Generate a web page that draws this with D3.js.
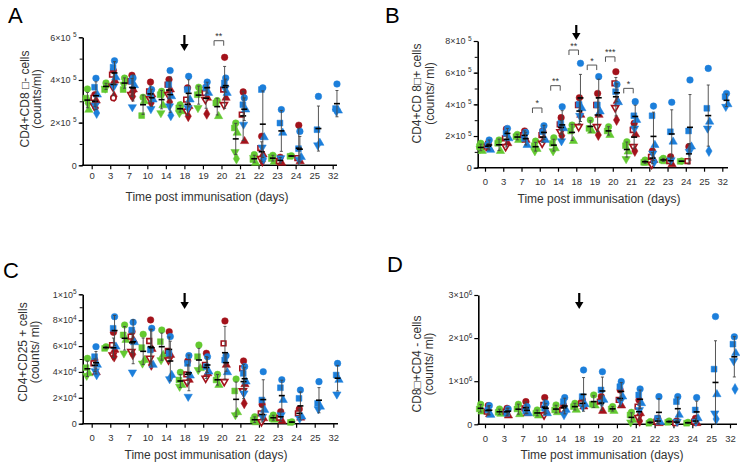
<!DOCTYPE html>
<html>
<head>
<meta charset="utf-8">
<script src="https://cdn.jsdelivr.net/npm/d3@7"></script>
<style>
  body { margin: 0; background: #fff; }
  svg { font-family: "Liberation Sans", Arial, sans-serif; }
  .tick text { fill: #333; }
</style>
</head>
<body>
<div id="chart"></div>
<script>
const days = ["0", "3", "7", "10", "14", "18", "19", "20", "21", "22", "23", "24", "25", "32"];

// panel A, counts x10^5
const aGreen = [[3.58, 3.15, 2.6, 3.05, 2.9], [3.86, 3.55, 3.78, 3.6], [4.09, 3.55, 4.0, 3.78], [3.19, 2.33, 3.0],
  [3.47, 3.31, 2.81, 2.45, 3.35], [2.84, 2.69, 2.53, 2.45, 2.75], [3.66, 3.31, 3.5, 2.69], [3.03, 2.92, 2.3],
  [1.98, 1.75, 1.52, 0.63, 0.31], [0.5, 0.27, 0.11, 0.35], [0.47, 0.31, 0.16, 0.4], [0.45, 0.42], [], []];
const aRed = [[3.31, 3.16, 3.03, 2.8, 2.69], [4.44, 4.25, 3.97, 3.7, 3.23, 3.16], [4.22, 3.94, 3.55, 3.31, 3.23],
  [3.9, 3.47, 3.31, 3.13, 2.92], [4.02, 3.78, 3.55, 3.31, 2.97], [3.63, 3.08, 2.77, 2.53, 2.3],
  [3.66, 3.39, 3.16, 3.08, 2.41], [5.06, 3.55, 3.16, 2.84], [3.44, 2.38, 1.13], [1.36, 0.81, 0.5, 0.31, 0.19],
  [0.38, 0.19, 0.11], [1.88, 0.34, 0.19], [], []];
const aBlue = [[4.08, 3.66, 3.31, 2.81, 2.45], [4.9, 4.6, 4.12, 3.7], [4.09, 3.94, 3.75, 2.73], [3.55, 3.39, 3.08, 2.64],
  [4.44, 3.78, 3.23, 2.77, 2.34], [4.17, 3.55, 3.08, 2.69], [3.9, 3.63, 3.39], [4.09, 3.86, 3.39, 3.6],
  [3.16, 2.84, 2.61, 1.91], [3.63, 3.55, 1.31, 0.84, 0.31], [2.61, 1.98, 1.52, 0.34], [1.59, 0.78, 0.38, 0.27],
  [3.23, 1.67, 1.05, 0.94], [3.81, 2.66, 2.56, 2.53]];

// panel B, counts x10^5
const bGreen = [[1.54, 1.33, 1.05, 1.2], [1.75, 1.54, 1.05], [2.1, 1.96, 1.75], [1.68, 1.39, 1.18, 1.05],
  [1.89, 1.54, 1.22, 1.05], [2.69, 2.32, 1.68], [3.01, 2.48, 2.32], [2.59, 2.32, 2.06], [1.64, 1.39, 1.01, 0.55],
  [0.48, 0.34, 0.3], [0.59, 0.48, 0.4], [0.42, 0.4], [], []];
const bRed = [[1.54, 1.33, 1.2], [2.44, 1.85, 1.54, 1.33], [2.32, 2.06, 1.75], [2.32, 2.06, 1.81, 1.54],
  [3.16, 2.74, 2.53, 2.27, 2.02], [4.42, 3.96, 3.33, 2.59], [4.69, 3.96, 3.33, 2.59, 2.06],
  [6.06, 5.33, 4.21, 3.79, 3.01], [2.8, 2.38, 2.1, 1.33, 1.05], [1.05, 0.69, 0.48, 0.21], [0.69, 0.42, 0.21],
  [1.33, 0.42], [], []];
const bBlue = [[1.75, 1.43, 1.12], [2.48, 2.17, 1.85], [2.23, 1.85, 1.43], [2.65, 2.27, 1.75], [3.85, 2.8, 2.48, 1.68],
  [6.59, 4.0, 3.75, 3.28], [5.75, 3.96, 3.54], [5.26, 4.8, 4.13], [4.17, 3.28, 3.01, 2.48],
  [3.89, 3.28, 1.43, 0.9, 0.38], [4.13, 2.27, 1.64, 0.48], [5.54, 2.32, 1.33, 1.01], [6.27, 3.75, 2.9, 2.48, 1.05],
  [4.69, 4.48, 4.0, 3.85]];

// panel C, counts x10^4
const cGreen = [[5.05, 4.33, 3.89, 3.71], [5.95, 5.82], [7.63, 6.86, 6.47, 5.44], [6.91, 5.88, 4.92, 4.66],
  [7.24, 6.34, 5.31, 4.92], [3.97, 3.38, 2.99, 2.86], [6.08, 5.18, 4.28, 4.15], [3.81, 3.38, 2.99],
  [3.45, 2.53, 0.88, 0.67], [0.54, 0.28, 0.1], [0.67, 0.41, 0.3], [0.15, 0.1], [], []];
const cRed = [[4.92, 4.66, 3.97], [7.06, 6.08, 5.7, 5.31, 5.18], [7.11, 6.73, 6.47, 5.57, 5.36],
  [8.02, 6.39, 5.77, 5.05, 4.54], [7.11, 5.62, 5.31, 4.92], [4.85, 3.81, 3.38, 3.2], [5.44, 4.54, 3.89, 3.51],
  [7.94, 6.21, 4.54, 3.25], [4.85, 4.28, 3.04, 2.53, 1.57], [1.49, 0.8, 0.41, 0.15], [0.93, 0.46, 0.21],
  [1.13, 0.8, 0.46], [], []];
const cBlue = [[5.95, 5.18, 4.54, 4.07, 3.81], [8.27, 7.37, 5.95], [7.84, 7.24, 6.29, 3.97], [7.37, 5.7, 4.54],
  [6.73, 5.44, 3.76, 3.45], [5.26, 4.66, 3.71, 2.09], [5.18, 4.41, 4.02], [5.26, 4.92, 3.97],
  [4.41, 3.89, 3.25, 2.35], [4.02, 1.83, 1.06, 0.54], [3.4, 2.78, 1.83, 0.67], [2.6, 1.96, 0.54, 0.4],
  [3.25, 1.57, 1.31, 1.13], [4.66, 3.76, 3.38, 2.27]];

// panel D, counts x10^5
const dGreen = [[4.64, 3.56, 2.94], [3.56, 2.78, 2.4], [4.64, 3.56, 2.32], [3.33, 2.55, 2.01], [4.49, 3.33, 2.78],
  [4.87, 4.1, 3.33], [6.81, 4.64, 4.33], [4.1, 3.56, 3.09], [2.78, 2.17, 1.0, 0.46], [0.62, 0.25], [0.77, 0.46],
  [0.46, 0.25], [], []];
const dRed = [[4.33, 2.94, 2.32], [3.71, 2.94, 2.01], [5.26, 3.71, 2.55], [6.19, 4.49, 3.09, 2.17], [4.33, 3.33],
  [5.65, 4.87, 4.1], [6.42, 5.26, 3.09], [7.97, 5.65, 4.33], [5.65, 4.1, 2.55, 1.55, 0.77], [1.39, 0.62, 0.25],
  [0.77, 0.25], [1.39, 0.62, 0.25], [], []];
const dBlue = [[4.33, 3.33, 2.17], [3.56, 2.55], [4.1, 3.09, 2.55], [4.87, 3.71, 2.55], [6.19, 5.26, 3.33, 2.17],
  [12.6, 6.42, 4.64, 4.1], [12.2, 7.97, 5.65, 5.1], [9.9, 8.74, 6.42, 5.41], [8.2, 6.81, 4.87, 3.33],
  [6.42, 1.39, 0.5], [6.42, 5.26, 2.17, 0.62], [6.19, 3.33, 1.39, 0.6], [25.0, 12.8, 6.96, 2.55, 1.24],
  [20.3, 18.6, 16.5, 14.7, 8.2]];

// y ticks and their labels [mantissa, exponent]
const aTicks = [0, 2, 4, 6];
const aTickText = [["0", ""], ["2×10", "5"], ["4×10", "5"], ["6×10", "5"]];
const bTicks = [0, 2, 4, 6, 8];
const bTickText = [["0", ""], ["2×10", "5"], ["4×10", "5"], ["6×10", "5"], ["8×10", "5"]];
const cTicks = [0, 2, 4, 6, 8, 10];
const cTickText = [["0", ""], ["2×10", "4"], ["4×10", "4"], ["6×10", "4"], ["8×10", "4"], ["1×10", "5"]];
const dTicks = [0, 10, 20, 30];
const dTickText = [["0", ""], ["1×10", "6"], ["2×10", "6"], ["3×10", "6"]];

// significance brackets (height in panel units)
const aSig = [{ day: "20", label: "**", at: 5.84 }];
const bSig = [
  { day: "10", label: "*", at: 3.77 }, { day: "14", label: "**", at: 5.18 },
  { day: "18", label: "**", at: 7.43 }, { day: "19", label: "*", at: 6.48 },
  { day: "20", label: "***", at: 7.0 }, { day: "21", label: "*", at: 5.01 }
];

const xTitle = "Time post immunisation (days)";
const green = "#63c930", red = "#a3121b", blue = "#1c7fdb";
const shapes = ["circle", "square", "triangle", "triangleDown", "diamond", "circle"];
const jitter = [0, -1.4, 1.4, -0.7, 0.7, 0];

const panels = [
  { letter: "A", lx: 8, ly: 23, green: aGreen, red: aRed, blue: aBlue, ticks: aTicks, tickText: aTickText,
    minor: 1, yMax: 6, sig: aSig, supGap: 2.5, ytitle: ["CD4+CD8 □- cells", "(counts/ml)"],
    axisX: 82.7, x0: 91.7, x1: 332.7, xEnd: 337, y0: 165.3, yTop: 37.3, pad: 3,
    t1x: 25, t2x: 36.5, tcy: 99, titleX: 207, titleY: 200.5, arrow: [35, 51] },
  { letter: "B", lx: 385, ly: 23, green: bGreen, red: bRed, blue: bBlue, ticks: bTicks, tickText: bTickText,
    minor: 1, yMax: 8, sig: bSig, supGap: 2.5, ytitle: ["CD4+CD 8□+ cells", "(counts/ ml)"],
    axisX: 477.7, x0: 485, x1: 722.3, xEnd: 728, y0: 167.7, yTop: 41, pad: 6.5,
    t1x: 417, t2x: 430, tcy: 93.5, titleX: 599, titleY: 203, arrow: [25, 40] },
  { letter: "C", lx: 3, ly: 278, green: cGreen, red: cRed, blue: cBlue, ticks: cTicks, tickText: cTickText,
    minor: 1, yMax: 10, sig: [], supGap: 0, ytitle: ["CD4+CD25 + cells", "(counts/ ml)"],
    axisX: 82.7, x0: 91.7, x1: 333.3, xEnd: 338, y0: 423.7, yTop: 294.3, pad: 6.5,
    t1x: 23, t2x: 35, tcy: 352, titleX: 206, titleY: 459, arrow: [293, 309] },
  { letter: "D", lx: 387, ly: 272, green: dGreen, red: dRed, blue: dBlue, ticks: dTicks, tickText: dTickText,
    minor: 0, yMax: 30, sig: [], supGap: 0, ytitle: ["CD8□+CD4 - cells", "(counts/ ml)"],
    axisX: 478.3, x0: 485, x1: 730, xEnd: 737, y0: 424.3, yTop: 295, pad: 6.5,
    t1x: 417, t2x: 429, tcy: 364, titleX: 602, titleY: 459, arrow: [293, 309] }
];

const svg = d3.select("#chart").append("svg")
  .attr("width", 740).attr("height", 469)
  .attr("viewBox", "0 0 740 469");
svg.append("rect").attr("width", 740).attr("height", 469).attr("fill", "#fff");

function symbolPath(shape, size) {
  const type = { circle: d3.symbolCircle, square: d3.symbolSquare, triangle: d3.symbolTriangle,
    triangleDown: d3.symbolTriangle, diamond: d3.symbolDiamond }[shape];
  return d3.symbol(type, size)();
}

function drawPanel(p) {
  const g = svg.append("g");
  const x = d3.scalePoint().domain(days).range([p.x0, p.x1]);
  const y = d3.scaleLinear().domain([0, p.yMax]).range([p.y0, p.yTop]);
  const step = x.step();

  // y axis
  if (p.minor) {
    g.append("g").attr("transform", `translate(${p.axisX},0)`)
      .call(d3.axisLeft(y).tickValues(d3.range(0, p.yMax + 0.01, p.minor)).tickSize(3).tickSizeOuter(0).tickFormat(""))
      .call(a => a.select(".domain").remove())
      .call(a => a.selectAll("line").attr("stroke", "#000").attr("stroke-width", 1));
  }
  g.append("g").attr("transform", `translate(${p.axisX},0)`)
    .call(d3.axisLeft(y).tickValues(p.ticks).tickSize(4).tickSizeOuter(0).tickFormat(""))
    .call(a => a.select(".domain").attr("stroke-width", 1.6))
    .call(a => a.selectAll("line").attr("stroke-width", 1.2));

  const yl = g.append("g").attr("font-size", 9).attr("fill", "#333").attr("text-anchor", "end");
  p.ticks.forEach((v, i) => {
    const [m, e] = p.tickText[i];
    const t = yl.append("text").attr("x", p.axisX - 6).attr("y", y(v) + 3.2);
    if (!e) { t.text(m); return; }
    t.append("tspan").text(m);
    t.append("tspan").attr("dx", p.supGap).attr("dy", -3.5).attr("font-size", 6.5).text(e);
  });

  // x axis
  g.append("line").attr("x1", p.axisX - 0.8).attr("x2", p.xEnd)
    .attr("y1", p.y0).attr("y2", p.y0).attr("stroke", "#000").attr("stroke-width", 1.6);
  g.append("g").attr("transform", `translate(0,${p.y0})`)
    .call(d3.axisBottom(x).tickSize(4).tickPadding(p.pad))
    .call(a => a.select(".domain").remove())
    .call(a => a.selectAll("line").attr("stroke-width", 1.2))
    .call(a => a.selectAll("text").attr("font-size", 9.5).attr("font-family", null));

  // points
  const groups = [
    { data: p.green, color: green, off: -0.23, open: false },
    { data: p.red, color: red, off: 0.17, open: true },
    { data: p.blue, color: blue, off: 0.23, open: false }
  ];
  const bars = [];
  groups.forEach(gr => {
    gr.data.forEach((vals, di) => {
      const cx = x(days[di]) + gr.off * step;
      vals.forEach((v, k) => {
        const shape = shapes[k % shapes.length];
        const hollow = gr.open && k % 2 === 1;
        const rot = shape === "triangleDown" ? " rotate(180)" : "";
        g.append("path")
          .attr("d", symbolPath(shape, hollow ? 22 : (shape.startsWith("tri") ? 30 : 34)))
          .attr("transform", `translate(${cx + jitter[k % jitter.length]},${y(v)})${rot}`)
          .attr("fill", hollow ? "#fff" : gr.color)
          .attr("stroke", gr.color)
          .attr("stroke-width", hollow ? 1.6 : 0.5);
      });
      if (vals.length > 1) bars.push({ cx, m: d3.mean(vals), s: d3.deviation(vals) });
    });
  });

  // mean +/- SD
  bars.forEach(b => {
    const lo = y(Math.max(0, b.m - b.s)), hi = y(b.m + b.s);
    g.append("line").attr("x1", b.cx).attr("x2", b.cx).attr("y1", lo).attr("y2", hi)
      .attr("stroke", "#444").attr("stroke-width", 0.9);
    [lo, hi].forEach(yy => g.append("line").attr("x1", b.cx - 1.5).attr("x2", b.cx + 1.5)
      .attr("y1", yy).attr("y2", yy).attr("stroke", "#444").attr("stroke-width", 0.9));
    g.append("line").attr("x1", b.cx - 3).attr("x2", b.cx + 3).attr("y1", y(b.m)).attr("y2", y(b.m))
      .attr("stroke", "#000").attr("stroke-width", 1.6);
  });

  // significance
  p.sig.forEach(s => {
    const xa = x(s.day) - 0.4 * step, xb = x(s.day) + 0.12 * step, yy = y(s.at);
    g.append("path").attr("d", `M${xa},${yy + 5}V${yy}H${xb}V${yy + 5}`)
      .attr("fill", "none").attr("stroke", "#555").attr("stroke-width", 1);
    g.append("text").attr("x", (xa + xb) / 2).attr("y", yy - 1.5).attr("text-anchor", "middle")
      .attr("font-size", 9).attr("fill", "#333").text(s.label);
  });

  // immunisation arrow at day 18
  const ax = x("18");
  g.append("line").attr("x1", ax).attr("x2", ax).attr("y1", p.arrow[0]).attr("y2", p.arrow[1] - 5)
    .attr("stroke", "#000").attr("stroke-width", 2.2);
  g.append("path").attr("d", `M${ax - 4.2},${p.arrow[1] - 7}L${ax + 4.2},${p.arrow[1] - 7}L${ax},${p.arrow[1]}Z`)
    .attr("fill", "#000");

  // titles
  g.append("text").attr("x", p.titleX).attr("y", p.titleY).attr("text-anchor", "middle")
    .attr("font-size", 12).attr("fill", "#333").text(xTitle);
  [[p.t1x, p.ytitle[0]], [p.t2x, p.ytitle[1]]].forEach(([tx, txt]) => {
    g.append("text").attr("transform", `translate(${tx + 4.3},${p.tcy}) rotate(-90)`)
      .attr("text-anchor", "middle").attr("font-size", 12).attr("fill", "#333").text(txt);
  });
  g.append("text").attr("x", p.lx).attr("y", p.ly).attr("font-size", 22).attr("fill", "#000").text(p.letter);
}

panels.forEach(drawPanel);
</script>
</body>
</html>
